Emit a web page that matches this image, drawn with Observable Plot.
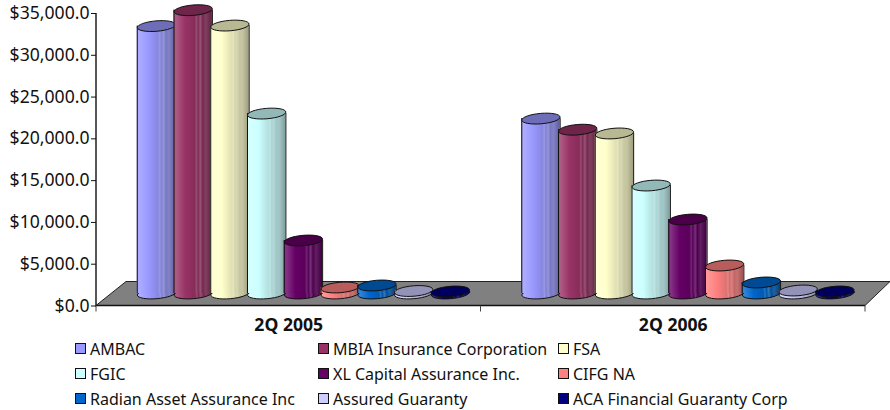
<!DOCTYPE html>
<html><head><meta charset="utf-8">
<script src="https://cdn.jsdelivr.net/npm/d3@7"></script>
<script src="https://cdn.jsdelivr.net/npm/@observablehq/plot@0.6"></script>
<style>
html,body{margin:0;padding:0;background:#fff;width:890px;height:410px;overflow:hidden}
body{font-family:"Noto Sans",sans-serif;color:#111}
svg{display:block;overflow:visible}
#legend{display:grid;grid-template-columns:243px 240px 260px;margin:-2px 0 0 75px;row-gap:0;font-size:16px}
#legend div{display:flex;align-items:center;height:25px;white-space:nowrap}
#legend i{display:inline-block;box-sizing:border-box;width:11px;height:11px;border:1px solid #111;margin-right:4px}
</style></head><body>
<div id="chart"></div><div id="legend"></div>
<script>
const quarters = ["2Q 2005","2Q 2006"];
const issuers = ["AMBAC","MBIA Insurance Corporation","FSA","FGIC","XL Capital Assurance Inc.","CIFG NA","Radian Asset Assurance Inc","Assured Guaranty","ACA Financial Guaranty Corp"];
const colors = ["#9999FF","#993366","#FFFFCC","#CCFFFF","#660066","#FF8080","#0066CC","#CCCCFF","#000080"];
const values2005 = [32000,33900,32060,21530,6340,720,960,300,240];
const values2006 = [20930,19600,19150,12920,8850,3350,1320,360,240];
const yTicks = [0,5000,10000,15000,20000,25000,30000,35000];

const rows = issuers.flatMap((issuer,i)=>[
  {quarter:quarters[0],issuer,value:values2005[i]},
  {quarter:quarters[1],issuer,value:values2006[i]}
]);
const rx=19.2, ry=5.2, lift=-12.5, k=0.5523, tiltAngle=-0.085;
const rot=(x,y)=>[x*Math.cos(tiltAngle)-y*Math.sin(tiltAngle), x*Math.sin(tiltAngle)+y*Math.cos(tiltAngle)];
const ellipse={draw(c){
  const seg=(a,b,d,e,f,g)=>c.bezierCurveTo(...rot(a,b),...rot(d,e),...rot(f,g));
  c.moveTo(...rot(-rx,0));
  seg(-rx,-ry*k,-rx*k,-ry,0,-ry);
  seg(rx*k,-ry,rx,-ry*k,rx,0);
  seg(rx,ry*k,rx*k,ry,0,ry);
  seg(-rx*k,ry,-rx,ry*k,-rx,0);
  c.closePath();
}};
const shade=(col,f)=>{const c=d3.rgb(col);return d3.rgb(c.r*f,c.g*f,c.b*f).formatHex();};
const lighten=(col,f)=>d3.interpolateRgb(col,"#fff")(f);

const cylinder=(issuer,i)=>{
  const d=rows.filter(r=>r.issuer===issuer);
  const common={x:"issuer",fx:"quarter",dy:lift};
  return [
    Plot.dot(d,{x:"issuer",fx:"quarter",y:()=>0,dy:lift,symbol:ellipse,fill:`url(#g${i})`,stroke:"#111",strokeWidth:1}),
    Plot.rectY(d,{...common,y1:0,y2:"value",fill:`url(#g${i})`,insetLeft:-rx+18.375,insetRight:-rx+18.375}),
    Plot.ruleX(d,{...common,y1:0,y2:"value",dx:-rx,stroke:"#111",strokeWidth:1}),
    Plot.ruleX(d,{...common,y1:0,y2:"value",dx:rx,stroke:"#111",strokeWidth:1}),
    Plot.dot(d,{x:"issuer",fx:"quarter",y:"value",dy:lift,symbol:ellipse,fill:shade(colors[i],.72),stroke:"#111",strokeWidth:1})
  ];
};

const furniture=Plot.dot([0],{facet:"super",frameAnchor:"left",render(index,scales,values,dim){
  const L=dim.marginLeft,R=dim.width-dim.marginRight,B=dim.height-dim.marginBottom,T=dim.marginTop;
  const depthX=30,depthY=24,M=(L+R)/2;
  const g=d3.create("svg:g").attr("class","floor");
  g.append("path").attr("d",`M${L},${B}L${L+depthX},${B-depthY}H${R+25}L${R},${B}Z`)
    .attr("fill","#808080").attr("stroke","#222").attr("stroke-width",1);
  g.append("path").attr("d",`M${L},${T}V${B}H${R}`).attr("fill","none").attr("stroke","#111").attr("stroke-width",1.4);
  g.append("path").attr("d",`M${L},${B}v6M${M},${B}v6M${R},${B}v6`).attr("fill","none").attr("stroke","#444").attr("stroke-width",1);
  return g.node();
}});

const plot=Plot.plot({
  width:890,height:338,marginLeft:96,marginRight:25,marginTop:13,marginBottom:32.5,
  style:{fontFamily:'"Noto Sans",sans-serif',color:"#111",background:"#fff",overflow:"visible"},
  fx:{domain:quarters,padding:0,round:false,label:null},
  x:{domain:issuers,paddingInner:0,paddingOuter:0.732,align:0.773,round:false,axis:null,label:null},
  y:{domain:[0,35000],label:null},
  marks:[
    furniture,
    Plot.axisY({ticks:yTicks,tickFormat:d3.format("$,.1f"),tickSize:5,tickPadding:2,fontSize:17.6,label:null,anchor:"left"}),
    Plot.axisFx({anchor:"bottom",tickSize:0,tickPadding:12,fontSize:17.6,fontWeight:"bold",label:null}),
    ...issuers.flatMap(cylinder)
  ]
});

const svg=d3.select(plot);
const defs=svg.insert("defs",":first-child");
colors.forEach((c,i)=>{
  const lg=defs.append("linearGradient").attr("id",`g${i}`);
  const stops=[[0,lighten(c,.12)],[.06,lighten(c,.2)],[.3,c],[.55,shade(c,.88)],[.6,lighten(shade(c,.88),.15)],[.64,shade(c,.84)],[.7,lighten(shade(c,.8),.2)],[.76,shade(c,.78)],[.84,lighten(shade(c,.74),.12)],[1,shade(c,.62)]];
  stops.forEach(([o,s])=>lg.append("stop").attr("offset",o).attr("stop-color",s));
});
const floor=plot.querySelector(".floor");
if(floor) defs.node().after(floor);
document.getElementById("chart").append(plot);

const legend=d3.select("#legend");
issuers.forEach((name,i)=>{
  const row=legend.append("div");
  row.append("i").style("background",colors[i]);
  row.append("span").text(name);
});
</script>
</body></html>
